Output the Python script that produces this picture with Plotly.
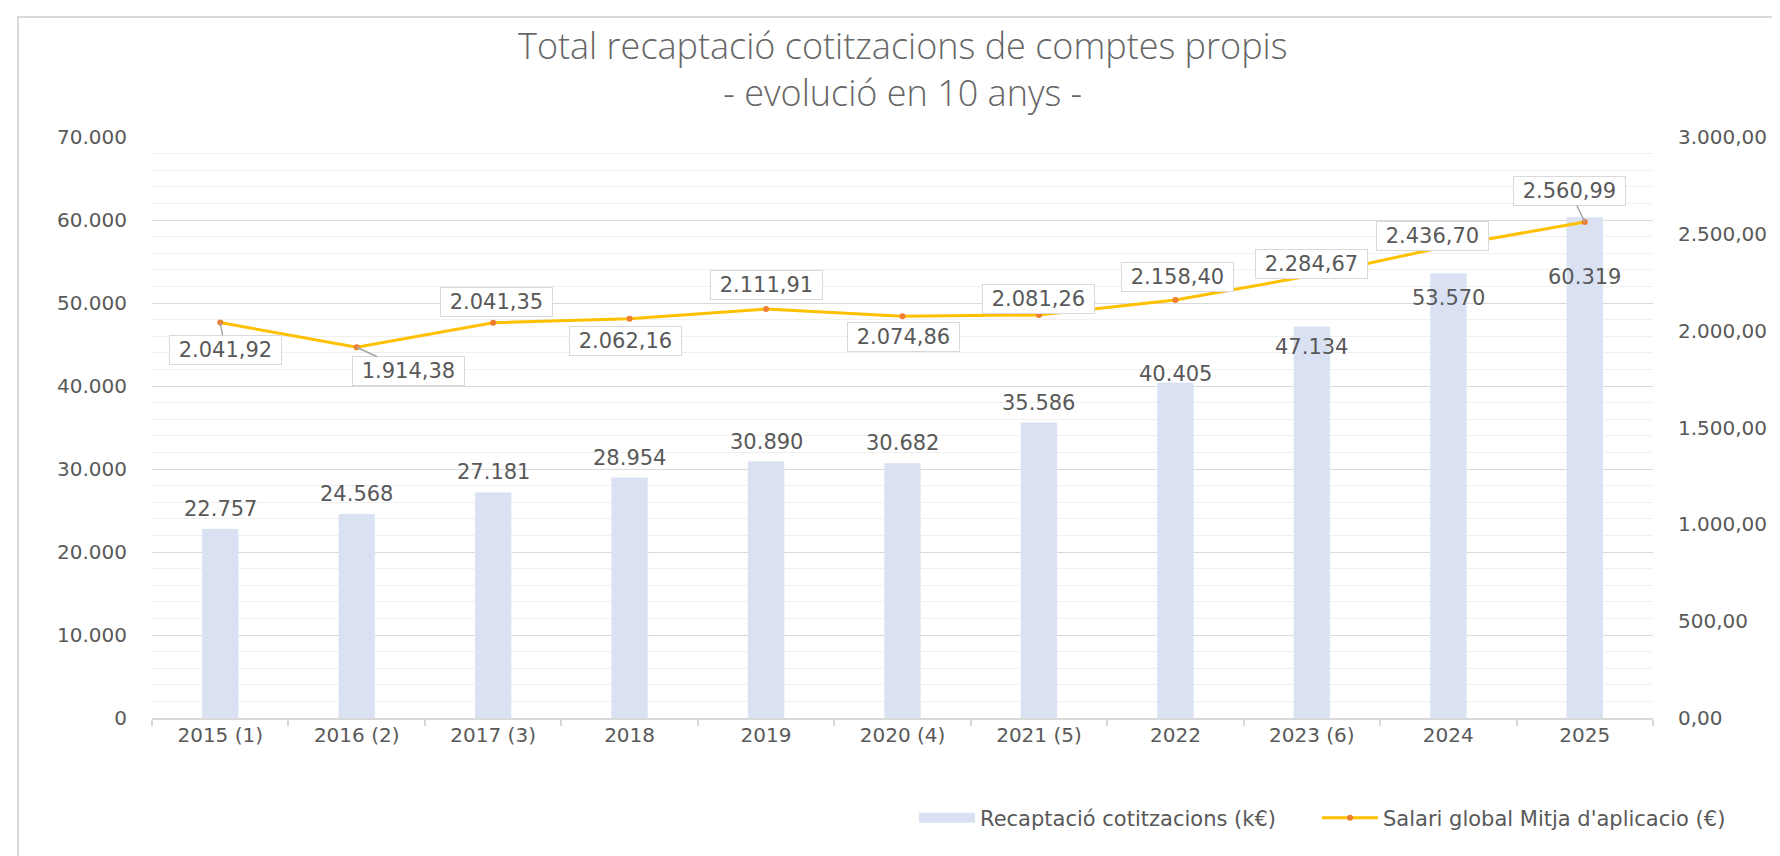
import plotly.graph_objects as go

categories = ["2015 (1)", "2016 (2)", "2017 (3)", "2018", "2019", "2020 (4)",
              "2021 (5)", "2022", "2023 (6)", "2024", "2025"]
recaptacio = [22757, 24568, 27181, 28954, 30890, 30682, 35586, 40405, 47134, 53570, 60319]
salari = [2041.92, 1914.38, 2041.35, 2062.16, 2111.91, 2074.86, 2081.26, 2158.40,
          2284.67, 2436.70, 2560.99]

bar_name = "Recaptació cotitzacions (k€)"
line_name = "Salari global Mitja d'aplicacio (€)"
title_1 = "Total recaptació cotitzacions de comptes propis"
title_2 = "- evolució en 10 anys -"

# label placement (pixels)
bar_label_shift = [20, 20, 20, 20, 20, 20, 20, 9, -20, -25, -60]
line_label_off = [(5, 27), (52, 24), (3, -21), (-4, 22), (0, -24), (1, 21),
                  (0, -16), (2, -23), (0, -12), (-16, -10), (-15, -31)]
line_leader = [True, True, False, False, False, False, False, False, False, False, True]

FONT = "DejaVu Sans"
TXT = "#595959"
NB = "\u00a0"

def fmt_int(v):
    return f"{v:,}".replace(",", ".")

def fmt_dec(v):
    return f"{v:,.2f}".replace(",", "X").replace(".", ",").replace("X", ".")

xpos = list(range(len(categories)))
boundaries = [i - 0.5 for i in range(len(categories) + 1)]

fig = go.Figure()
fig.add_trace(go.Bar(x=xpos, y=recaptacio, name=bar_name, legendgroup="bar",
                     showlegend=False, marker_color="#d9e1f2", width=0.265, yaxis="y"))
# legend entry for the bars (wide swatch, draws nothing on the plot)
fig.add_trace(go.Scatter(x=[None], y=[None], name=bar_name, legendgroup="bar",
                         mode="lines", line=dict(color="#d9e1f2", width=10), yaxis="y",
                         legend="legend"))
fig.add_trace(go.Scatter(x=xpos, y=salari, name=line_name, yaxis="y2",
                         mode="lines+markers",
                         line=dict(color="#ffc000", width=3),
                         marker=dict(color="#ed7d31", size=6),
                         legend="legend2"))

L, R, T, B = 144, 1645, 129, 710
W = R - L
H = B - T

ann = []
for c, v, s in zip(xpos, recaptacio, bar_label_shift):
    ann.append(dict(x=c, y=v, xref="x", yref="y", text=fmt_int(v), showarrow=False,
                    yshift=s, yanchor="middle", font=dict(family=FONT, size=21, color=TXT)))
for c, v, (ax, ay), lead in zip(xpos, salari, line_label_off, line_leader):
    ann.append(dict(x=c, y=v, xref="x", yref="y2", text=NB + fmt_dec(v) + NB,
                    showarrow=True, ax=ax, ay=ay, arrowhead=0, arrowwidth=1.5,
                    arrowcolor="#a6a6a6" if lead else "rgba(0,0,0,0)",
                    bgcolor="white", bordercolor="#d9d9d9", borderwidth=1, borderpad=2,
                    font=dict(family=FONT, size=21, color=TXT)))
ann.append(dict(x=(894.5 - L) / W, y=(B - 61) / H, xref="paper", yref="paper",
                text=title_1 + "<br>" + title_2, showarrow=False,
                xanchor="center", yanchor="middle", align="center",
                font=dict(family="Open Sans", weight=300, size=36, color="#666666")))

leg_common = dict(orientation="h", xanchor="left", y=(B - 810) / H, yanchor="middle",
                  itemwidth=56, font=dict(family=FONT, size=21, color=TXT),
                  bgcolor="rgba(0,0,0,0)")

fig.update_layout(
    width=1780, height=856,
    margin=dict(l=L, r=1780 - R, t=T, b=856 - B, autoexpand=False),
    paper_bgcolor="white", plot_bgcolor="white",
    separators=",.",
    font=dict(family=FONT, size=20, color=TXT),
    showlegend=True,
    legend=dict(x=(906 - L) / W, **leg_common),
    legend2=dict(x=(1309 - L) / W, **leg_common),
    annotations=ann,
    xaxis=dict(range=[-0.5, len(categories) - 0.5], tickmode="array",
               tickvals=xpos, ticktext=categories, ticks="",
               showline=True, linecolor="#d9d9d9", linewidth=1.5,
               showgrid=False, zeroline=False, ticklabelstandoff=-2,
               minor=dict(tickmode="array", tickvals=boundaries, ticks="outside",
                          ticklen=6, tickcolor="#d9d9d9", tickwidth=1.5, showgrid=False),
               tickfont=dict(family=FONT, size=20, color=TXT)),
    yaxis=dict(range=[0, 70000], dtick=10000, tickformat=",.0f",
               showgrid=True, gridcolor="#d9d9d9", gridwidth=1.2,
               minor=dict(dtick=2000, showgrid=True, gridcolor="#f0f0f0", gridwidth=1),
               zeroline=False, showline=False, ticklabelstandoff=24,
               tickfont=dict(family=FONT, size=20, color=TXT)),
    yaxis2=dict(range=[0, 3000], dtick=500, tickformat=",.2f", overlaying="y",
                side="right", showgrid=False, zeroline=False, showline=False,
                ticklabelstandoff=24,
                tickfont=dict(family=FONT, size=20, color=TXT)),
    shapes=[dict(type="rect", xref="paper", yref="paper",
                 x0=(10 - L) / W, x1=(1800 - L) / W,
                 y0=(B - 900) / H, y1=(B - 9) / H,
                 line=dict(color="#d9d9d9", width=2), fillcolor="rgba(0,0,0,0)",
                 layer="below")],
)

fig.write_html("out.html")
